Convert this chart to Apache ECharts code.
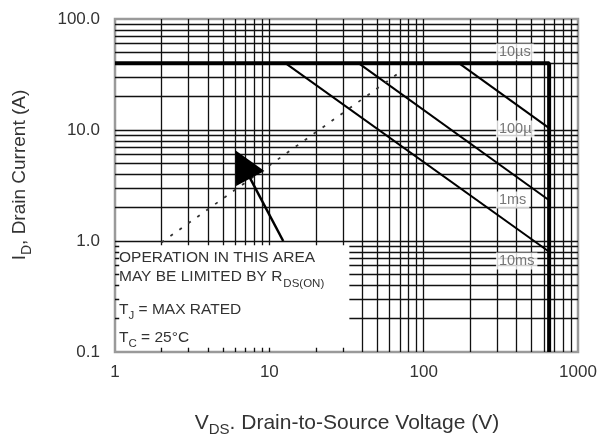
<!DOCTYPE html>
<html><head><meta charset="utf-8">
<script src="https://cdn.jsdelivr.net/npm/echarts@6/dist/echarts.min.js"></script>
<style>html,body{margin:0;padding:0;background:#fff}#c{width:600px;height:441px}</style>
</head><body><div id="c"></div>
<script>
// ---- data ----
const xTicks = [1, 10, 100, 1000];
const yTicks = [0.1, 1, 10, 100];
const gridMultipliers = [1, 2, 3, 4, 5, 6, 7, 8, 9];
const currentLimitA = 40;         // flat 10 µs / package limit
const vdssV = 650;                // breakdown voltage limit
const pulseNames  = ['10ms', '1ms', '100µ'];
const pulseStartV = [12.7, 37.8, 169];
const pulseStartI = [40, 40, 40];
const pulseEndV   = [650, 650, 650];
const pulseEndI   = [0.80, 2.33, 10.4];
const rdsonV = [2.0, 72];
const rdsonI = [0.97, 34];
const arrowV = [12.3, 6.73];
const arrowI = [1.0, 4.9];
const curveLabels = ['10µs', '100µ', '1ms', '10ms'];
const curveLabelV = [294, 294, 294, 294];
const curveLabelI = [50.4, 10.2, 2.34, 0.66];
const noteBoxV = 33;   // right edge of the grid-free note area
const noteBoxI = 1;    // top edge of the grid-free note area

// ---- build helpers ----
const FONT = "'Liberation Sans', Arial, sans-serif";
const xMin = xTicks[0], xMax = xTicks[xTicks.length - 1];
const yMin = yTicks[0], yMax = yTicks[yTicks.length - 1];
const tickFracY = 1.09, tickFracX = 1.065;

const gridSegs = [];
xTicks.slice(0, -1).forEach(d => gridMultipliers.forEach(m => {
  const v = +(d * m).toPrecision(6);
  if (v <= xMin) return;
  if (v < noteBoxV) {
    gridSegs.push({coords: [[v, noteBoxI / tickFracY], [v, yMax]]});
    gridSegs.push({coords: [[v, yMin], [v, yMin * tickFracY]]});
  } else {
    gridSegs.push({coords: [[v, yMin], [v, yMax]]});
  }
}));
yTicks.slice(0, -1).forEach(d => gridMultipliers.forEach(m => {
  const w = +(d * m).toPrecision(6);
  if (w <= yMin) return;
  if (w < noteBoxI) {
    gridSegs.push({coords: [[noteBoxV, w], [xMax, w]]});
    gridSegs.push({coords: [[xMin, w], [xMin * tickFracX, w]]});
  } else {
    gridSegs.push({coords: [[xMin, w], [xMax, w]]});
  }
}));

const pulseSegs = pulseNames.map((n, i) => ({
  name: n, coords: [[pulseStartV[i], pulseStartI[i]], [pulseEndV[i], pulseEndI[i]]]
}));

const chart = echarts.init(document.getElementById('c'), null, {renderer: 'canvas'});
chart.setOption({
  animation: false,
  backgroundColor: '#fff',
  textStyle: {fontFamily: FONT},
  grid: {left: 115, top: 19, right: 22, bottom: 89, show: true,
         borderColor: '#9a9a9a', borderWidth: 2.5, backgroundColor: '#fff'},
  xAxis: {type: 'log', logBase: 10, min: xMin, max: xMax,
    axisLine: {show: false}, axisTick: {show: false}, splitLine: {show: false},
    axisLabel: {fontSize: 17, color: '#333', margin: 12, fontFamily: FONT,
      formatter: v => String(Math.round(v))}},
  yAxis: {type: 'log', logBase: 10, min: yMin, max: yMax,
    axisLine: {show: false}, axisTick: {show: false}, splitLine: {show: false},
    axisLabel: {fontSize: 17, color: '#333', margin: 15, fontFamily: FONT,
      formatter: v => Number(v).toFixed(1)}},
  series: [
    {type: 'lines', coordinateSystem: 'cartesian2d', silent: true, z: 1,
     lineStyle: {color: '#111', width: 1.3, opacity: 1}, data: gridSegs},
    {type: 'lines', coordinateSystem: 'cartesian2d', silent: true, z: 3,
     lineStyle: {color: '#000', width: 2, opacity: 1}, data: pulseSegs},
    {type: 'line', silent: true, z: 4, symbol: 'none',
     lineStyle: {color: '#000', width: 4},
     data: [[xMin, currentLimitA], [vdssV, currentLimitA], [vdssV, yMin]]},
    {type: 'line', silent: true, z: 3, symbol: 'none',
     lineStyle: {color: '#333', width: 1.8, type: [3, 8]},
     data: rdsonV.map((v, i) => [v, rdsonI[i]])},
    {type: 'lines', coordinateSystem: 'cartesian2d', silent: true, z: 5,
     symbol: ['none', 'triangle'], symbolSize: [22, 32],
     lineStyle: {color: '#000', width: 2.5, opacity: 1},
     data: [{coords: arrowV.map((v, i) => [v, arrowI[i]])}]},
    {type: 'scatter', silent: true, z: 6, symbolSize: 0,
     data: curveLabels.map((n, i) => ({name: n, value: [curveLabelV[i], curveLabelI[i]]})),
     label: {show: true, position: 'right', distance: 0, formatter: '{b}',
       fontSize: 14.5, color: '#555', fontFamily: FONT,
       backgroundColor: '#fff', padding: [1, 3]}}
  ],
  graphic: [
    {type: 'text', x: 119, y: 258, z: 10, style: {text: 'OPERATION IN THIS AREA',
      font: '15.5px ' + FONT, fill: '#333', verticalAlign: 'middle'}},
    {type: 'text', x: 119, y: 277, z: 10, style: {
      text: '{m|MAY BE LIMITED BY R}{s|DS(ON)}', verticalAlign: 'middle', fill: '#333',
      rich: {m: {fontSize: 15.5, fontFamily: FONT, fill: '#333'},
             s: {fontSize: 11.5, fontFamily: FONT, fill: '#333', padding: [13, 0, 0, 1]}}}},
    {type: 'text', x: 119, y: 310, z: 10, style: {
      text: '{m|T}{s|J}{m| = MAX RATED}', verticalAlign: 'middle', fill: '#333',
      rich: {m: {fontSize: 15.5, fontFamily: FONT, fill: '#333'},
             s: {fontSize: 11.5, fontFamily: FONT, fill: '#333', padding: [12, 0, 0, 0]}}}},
    {type: 'text', x: 119, y: 338, z: 10, style: {
      text: '{m|T}{s|C}{m| = 25°C}', verticalAlign: 'middle', fill: '#333',
      rich: {m: {fontSize: 15.5, fontFamily: FONT, fill: '#333'},
             s: {fontSize: 11.5, fontFamily: FONT, fill: '#333', padding: [12, 0, 0, 0]}}}},
    {type: 'text', x: 347, y: 423, z: 10, style: {
      text: '{m|V}{s|DS}{m|. Drain-to-Source Voltage (V)}', align: 'center', verticalAlign: 'middle', fill: '#333',
      rich: {m: {fontSize: 21, fontFamily: FONT, fill: '#333'},
             s: {fontSize: 15, fontFamily: FONT, fill: '#333', padding: [14, 0, 0, 0]}}}},
    {type: 'text', x: 20, y: 175, rotation: Math.PI / 2, z: 10, style: {
      text: '{m|I}{s|D}{m|, Drain Current (A)}', align: 'center', verticalAlign: 'middle', fill: '#333',
      rich: {m: {fontSize: 19, fontFamily: FONT, fill: '#333'},
             s: {fontSize: 14, fontFamily: FONT, fill: '#333', padding: [14, 0, 0, 0]}}}}
  ]
});
</script></body></html>
